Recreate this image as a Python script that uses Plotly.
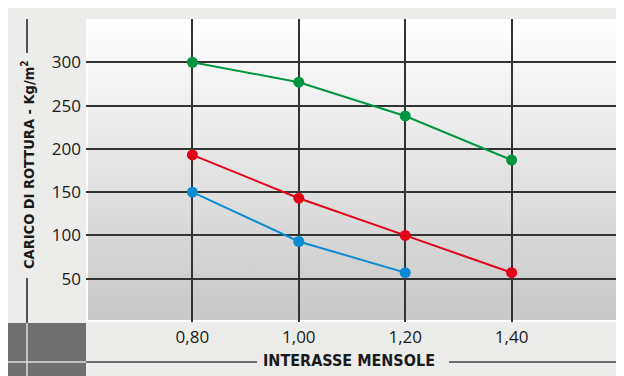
import base64
import plotly.graph_objects as go

# Dati
interasse = [0.80, 1.00, 1.20, 1.40]
carico_verde = [300, 277, 238, 187]
carico_rosso = [193, 143, 100, 57]
carico_blu = [150, 93, 57]
x_ticks = [0.80, 1.00, 1.20, 1.40]
y_ticks = [50, 100, 150, 200, 250, 300]

GREEN = "#009640"
RED = "#E3001B"
BLUE = "#0A8CD4"
BG = "#ECEDEB"
GRID = "#333333"
TEXT = "#1A1A1A"
TITLE_FONT = "DejaVu Sans Condensed, Liberation Sans Narrow, sans-serif"
TICK_FONT = "Open Sans, Noto Sans, sans-serif"

# la pagina ha 8px di margine: coordinate in pixel dello schermo -> figura
OFF = 8
W, H = 624 - OFF, 376 - OFF
L, R, T, B = 86, 618, 19, 322  # area del grafico (pixel schermo)


def px(x):
    return (x - L) / (R - L)


def py(y):
    return (B - y) / (B - T)


svg = (
    '<svg xmlns="http://www.w3.org/2000/svg" width="100" height="100" '
    'viewBox="0 0 100 100" preserveAspectRatio="none">'
    '<defs><linearGradient id="g" x1="0" y1="0" x2="0" y2="1">'
    '<stop offset="0" stop-color="#FFFFFF"/><stop offset="1" stop-color="#C8C8C8"/>'
    '</linearGradient></defs><rect width="100" height="100" fill="url(#g)"/></svg>'
)
gradient = "data:image/svg+xml;base64," + base64.b64encode(svg.encode()).decode()

fig = go.Figure()

for ys, color in [(carico_verde, GREEN), (carico_rosso, RED), (carico_blu, BLUE)]:
    fig.add_trace(go.Scatter(
        x=interasse[:len(ys)], y=ys,
        mode="lines+markers",
        line=dict(color=color, width=2),
        marker=dict(color=color, size=11),
        showlegend=False,
    ))


def line(x0, y0, x1, y1, color, width):
    return dict(type="line", xref="paper", yref="paper",
                x0=px(x0), y0=py(y0), x1=px(x1), y1=py(y1),
                line=dict(color=color, width=width))


def rect(x0, y0, x1, y1, color):
    return dict(type="rect", xref="paper", yref="paper", layer="below",
                x0=px(x0), y0=py(y0), x1=px(x1), y1=py(y1),
                fillcolor=color, line=dict(width=0))


shapes = [
    rect(OFF, 323, 86, 376, "#6F6F6F"),
    # croce bianca nel quadrato
    line(27, 323, 27, 376, "#DCDCDC", 1.5),
    line(OFF, 362, 86, 362, "#DCDCDC", 1.5),
    # linee dei titoli
    line(27, 19, 27, 53, "#1A1A1A", 1.5),
    line(27, 278, 27, 323, "#1A1A1A", 1.5),
    line(86, 362, 257, 362, "#6E6E6E", 2),
    line(449, 362, 618, 362, "#6E6E6E", 2),
]

fig.update_layout(
    width=W, height=H,
    margin=dict(l=L - OFF, r=624 - R, t=T - OFF, b=376 - B, pad=0),
    paper_bgcolor=BG,
    plot_bgcolor="white",
    separators=",.",
    shapes=shapes,
    images=[dict(
        source=gradient, xref="paper", yref="paper",
        x=px(88), y=py(21), sizex=px(616) - px(88), sizey=py(21) - py(320),
        xanchor="left", yanchor="top", sizing="stretch", layer="below",
    )],
    xaxis=dict(
        range=[0.6, 1.6], tickvals=x_ticks, tickformat=".2f",
        showgrid=True, gridcolor=GRID, gridwidth=1.5,
        zeroline=False, showline=False, ticks="",
        ticklabelstandoff=3,
        tickfont=dict(family=TICK_FONT, size=17, color=TEXT),
    ),
    yaxis=dict(
        range=[0, 350], tickvals=y_ticks,
        showgrid=True, gridcolor=GRID, gridwidth=1.5,
        zeroline=False, showline=False, ticks="",
        ticklabelstandoff=4,
        tickfont=dict(family=TICK_FONT, size=17, color=TEXT),
    ),
    annotations=[
        dict(text="<b>INTERASSE MENSOLE</b>", xref="paper", yref="paper",
             x=px(349), y=py(360), xanchor="center", yanchor="middle",
             showarrow=False,
             font=dict(family=TITLE_FONT, size=16, color=TEXT)),
        dict(text="<b>CARICO DI ROTTURA - Kg/m<sup>2</sup></b>", xref="paper", yref="paper",
             x=px(28), y=py(165), xanchor="center", yanchor="middle",
             showarrow=False, textangle=-90,
             font=dict(family=TITLE_FONT, size=14.5, color=TEXT)),
    ],
)

fig.write_html("out.html")
